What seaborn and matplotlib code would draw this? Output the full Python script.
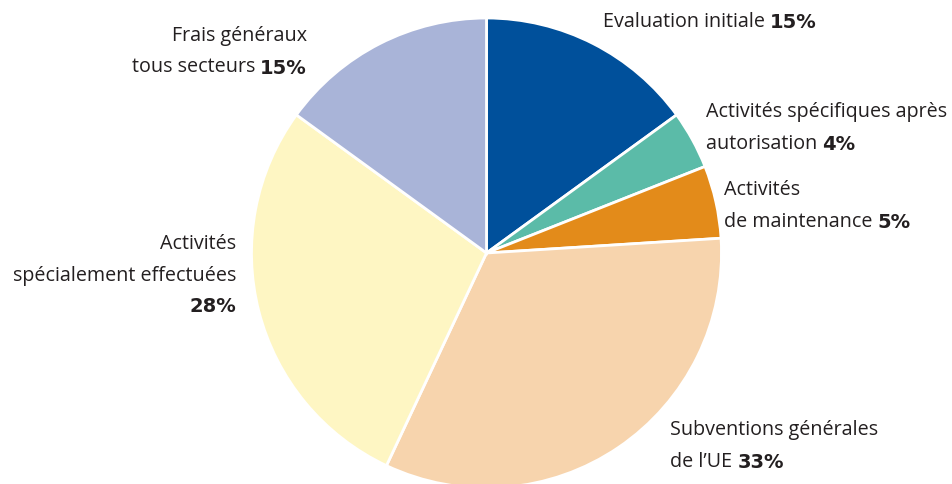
import matplotlib
matplotlib.use("Agg")
import matplotlib.pyplot as plt
import seaborn as sns

# Budget shares (clockwise from 12 o'clock)
labels = [
    "Evaluation initiale",
    "Activités spécifiques après\nautorisation",
    "Activités\nde maintenance",
    "Subventions générales\nde l\u2019UE",
    "Activités\nspécialement effectuées",
    "Frais généraux\ntous secteurs",
]
shares = [15, 4, 5, 33, 28, 15]
colors = ["#00509b", "#5bbba8", "#e38b1a", "#f7d4ad", "#fef6c3", "#a9b4d8"]

sns.set_theme(style="white")
plt.rcParams["font.family"] = ["Open Sans", "DejaVu Sans"]

W, H = 952, 484
fig = plt.figure(figsize=(W / 100, H / 100), dpi=100)
ax = fig.add_axes([0, 0, 1, 1])

ax.pie(shares, colors=sns.color_palette(colors), startangle=90, counterclock=False,
       center=(486.5, H - 253), radius=235, frame=False,
       wedgeprops=dict(edgecolor="white", linewidth=2))
ax.set_xlim(0, W)
ax.set_ylim(0, H)
ax.set_aspect("equal")
ax.axis("off")

txt = "#231f20"
fs = 14.2
pct_font = dict(fontsize=14, color=txt, fontweight="bold", family="DejaVu Sans")

def label_left(x, y, lines, pct):
    # left-aligned lines, bold pct after the last line
    t = None
    for i, line in enumerate(lines):
        t = ax.text(x, H - y - 32 * i, line + " ", ha="left", va="center",
                    fontsize=fs, color=txt)
    ax.annotate(pct, xy=(1, 0), xycoords=t, ha="left", va="bottom", **pct_font)

def label_right(x, y, lines, pct, pct_own_line=False):
    n = len(lines)
    for i, line in enumerate(lines[:-1]):
        ax.text(x, H - y - 32 * i, line, ha="right", va="center", fontsize=fs, color=txt)
    if pct_own_line:
        ax.text(x, H - y - 32 * (n - 1), lines[-1], ha="right", va="center",
                fontsize=fs, color=txt)
        ax.text(x, H - y - 32 * n + 2, pct, ha="right", va="center", **pct_font)
    else:
        b = ax.text(x, H - y - 32 * (n - 1), pct, ha="right", va="center", **pct_font)
        ax.annotate(lines[-1] + " ", xy=(0, 0), xycoords=b, ha="right", va="bottom",
                    fontsize=fs, color=txt)

label_left(603, 22, labels[0].split("\n"), f"{shares[0]}%")
label_left(706, 112, labels[1].split("\n"), f"{shares[1]}%")
label_left(724, 190, labels[2].split("\n"), f"{shares[2]}%")
label_left(670, 430, labels[3].split("\n"), f"{shares[3]}%")
label_right(236, 244, labels[4].split("\n"), f"{shares[4]}%", pct_own_line=True)
label_right(307, 36, labels[5].split("\n"), f"{shares[5]}%")

fig.savefig("out.png", dpi=100)
